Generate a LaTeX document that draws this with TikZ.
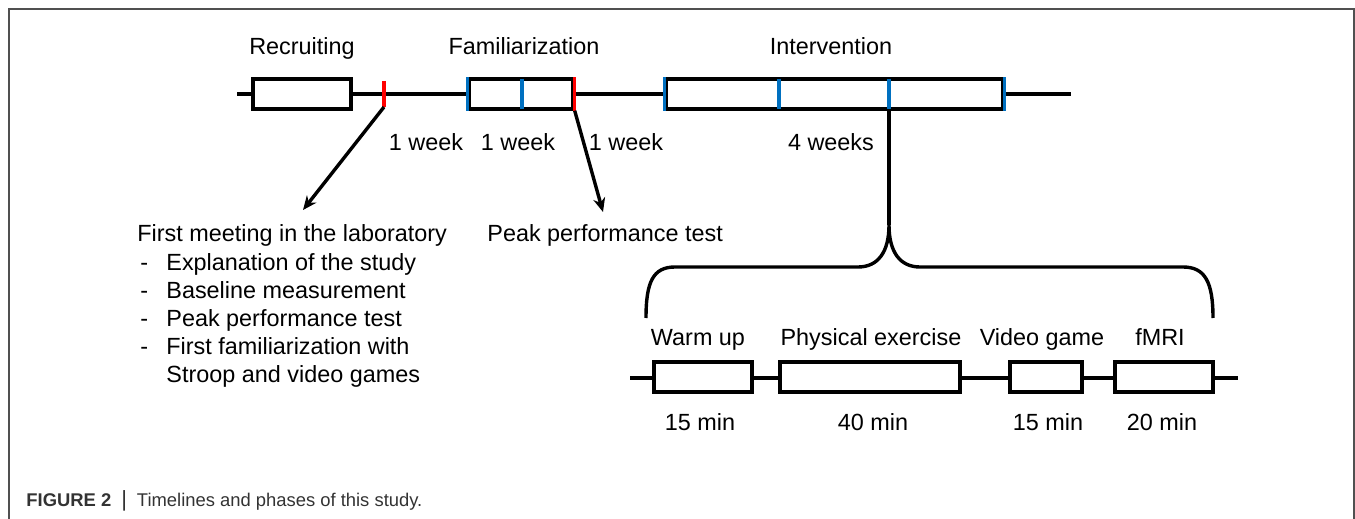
\documentclass[tikz,border=0pt]{standalone}
\usepackage{fontspec}
\setmainfont{Liberation Sans}
\usetikzlibrary{arrows.meta}
\definecolor{tickblue}{HTML}{0070C0}
\definecolor{tickred}{HTML}{FF0000}
\definecolor{framegray}{HTML}{505050}
\definecolor{captxt}{HTML}{333333}
\begin{document}
\begin{tikzpicture}[x=0.5pt,y=-0.5pt,
  tl/.style={line width=1.7pt},
  phase/.style={draw, line width=1.7pt, fill=white, inner sep=0pt, minimum height=15pt},
  lbl/.style={font=\fontsize{11.7}{14}\selectfont, inner sep=0pt, anchor=base},
  lblw/.style={font=\fontsize{11.7}{14}\selectfont, inner sep=0pt, anchor=base west},
  tickb/.style={draw=tickblue, line width=1.6pt},
  tickr/.style={draw=tickred, line width=1.6pt},
  arr/.style={line width=1.7pt, -{Stealth[length=7pt,width=6pt]}},
  frame/.style={draw=framegray, line width=1pt}
]
\useasboundingbox (0,0) rectangle (1355,519);
% frame
\draw[frame] (9,519) -- (9,9) -- (1354,9) -- (1354,519);

% ---------- top timeline ----------
\coordinate (tstart) at (237,94);
\coordinate (tend) at (1071,94);
\draw[tl] (tstart) -- (tend);
\node[phase, minimum width=49pt] (recr) at (302,94) {};
\node[phase, minimum width=52pt] (fam) at (521,94) {};
\node[phase, minimum width=168.5pt] (int) at (834.5,94) {};
% ticks
\coordinate (r1t) at (384,81); \coordinate (r1b) at (384,107);
\draw[tickr] (r1t) -- (r1b);
\draw[tickb] (fam.north west) -- (fam.south west);
\coordinate (f2t) at (522,79); \coordinate (f2b) at (522,109);
\draw[tickb] (f2t) -- (f2b);
\draw[tickr] (fam.north east) -- (fam.south east);
\draw[tickb] (int.north west) -- (int.south west);
\coordinate (i2t) at (779,79); \coordinate (i2b) at (779,109);
\draw[tickb] (i2t) -- (i2b);
\coordinate (i3t) at (889,79); \coordinate (i3b) at (889,109);
\draw[tickb] (i3t) -- (i3b);
\draw[tickb] (int.north east) -- (int.south east);

% top labels
\node[lbl] (lrecr) at (302,55) {Recruiting};
\node[lbl] (lfam) at (524,55) {Familiarization};
\node[lbl] (lint) at (831,55) {Intervention};
\node[lbl] (w1) at (426,151) {1 week};
\node[lbl] (w2) at (518,151) {1 week};
\node[lbl] (w3) at (626,151) {1 week};
\node[lbl] (w4) at (831,151) {4 weeks};

% arrows
\coordinate (a1) at (303,210);
\coordinate (a2) at (603,212);
\draw[arr] (r1b) -- (a1);
\draw[arr] (fam.south east) -- (a2);

% first meeting text
\node[lblw] (fm0) at (137,242) {First meeting in the laboratory};
\node[lblw] (d1) at (140,270) {-};
\node[lblw] (fm1) at (166,270) {Explanation of the study};
\node[lblw] (d2) at (140,298) {-};
\node[lblw] (fm2) at (166,298) {Baseline measurement};
\node[lblw] (d3) at (140,326) {-};
\node[lblw] (fm3) at (166,326) {Peak performance test};
\node[lblw] (d4) at (140,354) {-};
\node[lblw] (fm4) at (166,354) {First familiarization with};
\node[lblw] (fm5) at (166,382) {Stroop and video games};
\node[lblw] (ppt) at (487,242) {Peak performance test};

% brace
\coordinate (bl) at (646,318);
\coordinate (br) at (1213,318);
\coordinate (bc) at (889,225);
\draw[tl] (i3b) -- (bc);
\draw[tl] (bl) .. controls (646,282) and (653,267) .. (675,267) -- (858,267)
  .. controls (878,267) and (889,252) .. (bc)
  .. controls (889,252) and (900,267) .. (920,267) -- (1183,267)
  .. controls (1205,267) and (1213,282) .. (br);

% ---------- bottom timeline ----------
\coordinate (bstart) at (630,378);
\coordinate (bend) at (1238,378);
\draw[tl] (bstart) -- (bend);
\node[phase, minimum width=49pt] (warm) at (703,377) {};
\node[phase, minimum width=90pt] (phys) at (870,377) {};
\node[phase, minimum width=36pt] (vid) at (1046,377) {};
\node[phase, minimum width=49pt] (fmri) at (1164,377) {};
\node[lbl] (lwarm) at (698,345) {Warm up};
\node[lbl] (lphys) at (871,345) {Physical exercise};
\node[lbl] (lvid) at (1042,345) {Video game};
\node[lbl] (lfmri) at (1160,345) {fMRI};
\node[lbl] (t1) at (700,430) {15 min};
\node[lbl] (t2) at (873,430) {40 min};
\node[lbl] (t3) at (1048,430) {15 min};
\node[lbl] (t4) at (1162,430) {20 min};

% caption
\node[font=\fontsize{9.2}{11}\selectfont, text=captxt, inner sep=0pt, anchor=base west] (cap) at (26,506)
  {\textbf{FIGURE 2}\hspace{5pt}{\fontsize{11}{11}\selectfont|}\hspace{5pt}Timelines and phases of this study.};
\end{tikzpicture}
\end{document}
